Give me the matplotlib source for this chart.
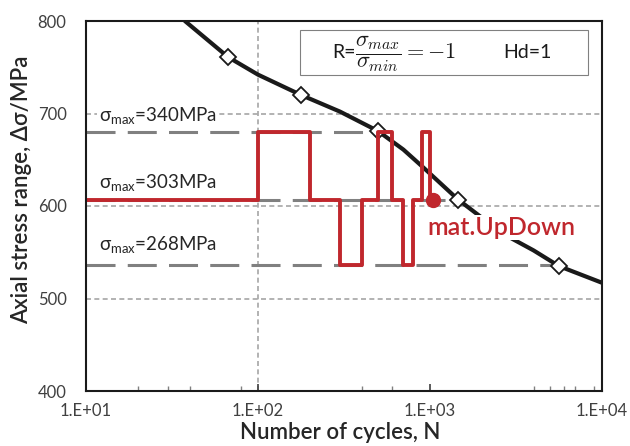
import matplotlib
matplotlib.use("Agg")
import matplotlib.pyplot as plt
from matplotlib.patches import Rectangle

plt.rcParams['font.family'] = ['Lato', 'DejaVu Sans']

# ---- data ----
# S-N curve
curve_N = [37.6, 67, 100, 178, 300, 499, 700, 910, 1455, 2655, 4000, 5623, 10000]
curve_S = [800, 761, 742, 720, 702, 681, 661, 642, 607, 570, 552, 535, 517]
# diamond markers on the curve
marker_N = [67, 178, 499, 1455, 5623]
marker_S = [761, 720, 681, 607, 535]

# stress levels (sigma_max) and their ranges
sigma_max = [340, 303, 268]
level_range = [680, 606, 536]
level_end_N = [499, 1455, 5623]
level_label_y = [698, 625, 558]

# up-down staircase
block_start = [10, 100, 200, 300, 400, 500, 600, 700, 800, 900, 1000]
block_level = [606, 680, 606, 536, 606, 680, 606, 536, 606, 680, 606]
final_N = 1040
final_S = 606

xticks = [10, 100, 1000, 10000]
xticklabels = ['1.E+01', '1.E+02', '1.E+03', '1.E+04']
yticks = [400, 500, 600, 700, 800]
minor_ticks = [20, 30, 40, 80, 400, 600, 4000, 5000, 6000, 7000, 9000]

RED = '#c0272d'
GRID = '#a6a6a6'
DASH = '#808080'

fig = plt.figure(figsize=(6.3, 4.46), dpi=100)
ax = fig.add_axes([86/630, 1-391/446, 516/630, 370/446])
ax.set_xscale('log')
ax.set_xlim(10, 10000)
ax.set_ylim(400, 800)

# grid lines
for y in [500, 600, 700]:
    ax.axhline(y, color=GRID, lw=1.2, dashes=(3, 2), zorder=1)
ax.axvline(100, color=GRID, lw=1.2, dashes=(3, 2), zorder=1)

# stress level dashed lines
for r, e in zip(level_range, level_end_N):
    ax.hlines(r, 10, e, color=DASH, lw=2.2, linestyles=(0, (9.5, 4)), zorder=2)

# labels for levels
for s, ly in zip(sigma_max, level_label_y):
    ax.text(11.9, ly, r'$\mathregular{\sigma_{max}}$=%dMPa' % s, fontsize=13.5,
            color='#262626', ha='left', va='center', zorder=2.5,
            bbox=dict(boxstyle='square,pad=0.1', fc='white', ec='none'))

# S-N curve
ax.plot(curve_N, curve_S, color='#1a1a1a', lw=3, zorder=3, solid_capstyle='round')
ax.plot(marker_N, marker_S, linestyle='none', marker='D', markersize=8.5,
        markerfacecolor='white', markeredgecolor='#1a1a1a', markeredgewidth=1.3, zorder=3.5)

# staircase
ax.step(block_start + [final_N], block_level + [final_S], where='post',
        color=RED, lw=2.8, zorder=4)
ax.plot([final_N], [final_S], 'o', color=RED, markersize=10, zorder=7)
ax.text(960, 577, 'mat.UpDown', color=RED, fontsize=18, fontweight='semibold',
        ha='left', va='center', zorder=6,
        bbox=dict(boxstyle='square,pad=0.05', fc='white', ec='none'))

# info box
ax.add_patch(Rectangle((0.4147, 0.854), 0.558, 0.122, transform=ax.transAxes,
                       fc='white', ec='#808080', lw=0.8, zorder=6))
ax.text(0.477, 0.915, 'R=', transform=ax.transAxes,
        fontsize=14, ha='left', va='center', color='#1a1a1a', zorder=7)
ax.text(0.521, 0.912, r'$\dfrac{\sigma_{max}}{\sigma_{min}} = -1$', transform=ax.transAxes,
        fontsize=16, ha='left', va='center', color='#1a1a1a', zorder=7,
        math_fontfamily='cm')
ax.text(0.808, 0.915, 'Hd=1', transform=ax.transAxes, fontsize=14, ha='left',
        va='center', color='#1a1a1a', zorder=7)

# axes styling
for sp in ax.spines.values():
    sp.set_color('#1a1a1a')
    sp.set_linewidth(1.5)
    sp.set_zorder(8)

ax.set_xticks(xticks)
ax.set_xticklabels(xticklabels)
ax.set_xticks(minor_ticks, minor=True)
ax.set_xticklabels([], minor=True)
ax.set_yticks(yticks)
ax.tick_params(axis='x', which='major', direction='in', length=5, width=1.2,
               colors='#404040', labelsize=12, pad=9)
ax.tick_params(axis='x', which='minor', direction='in', length=3.5, width=1,
               color='#808080')
ax.tick_params(axis='y', which='both', length=0, labelsize=12, colors='#404040', pad=14)
ax.tick_params(axis='x', which='both', top=False)

ax.set_xlabel('Number of cycles, N', fontsize=16, color='#262626',
              fontweight='semibold', va='center')
ax.set_ylabel('Axial stress range, Δσ/MPa', fontsize=16, color='#262626',
              fontweight='semibold', va='center')
ax.xaxis.set_label_coords(0.492, -0.111)
ax.yaxis.set_label_coords(-0.124, 0.545)

fig.savefig('out.png', dpi=100)
